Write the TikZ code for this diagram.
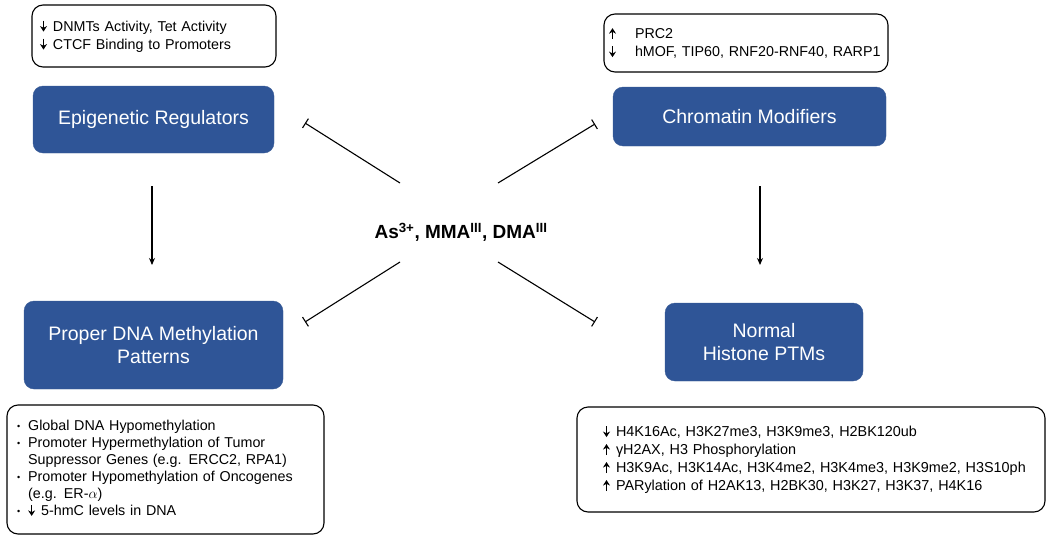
\documentclass[tikz,border=0pt]{standalone}
\usepackage{fontspec}
\setmainfont{Liberation Sans}
\usetikzlibrary{arrows.meta}
\definecolor{boxblue}{RGB}{47,85,151}
\definecolor{boxedge}{RGB}{58,92,150}
\newcommand{\dnar}{\tikz[baseline=0pt]{\path (-3.5pt,0pt) (3.5pt,0pt);\draw[line width=1.2pt,-{Stealth[length=5.5pt,width=7pt]}] (0pt,10.5pt)--(0pt,-0.5pt);}}
\newcommand{\upar}{\tikz[baseline=0pt]{\path (-3.5pt,0pt) (3.5pt,0pt);\draw[line width=1.2pt,-{Stealth[length=5.5pt,width=7pt]}] (0pt,-0.5pt)--(0pt,10.5pt);}}
\tikzset{
  bluebox/.style={draw=boxedge, fill=boxblue, rounded corners=10pt, text=white,
    align=center, inner sep=0pt, font=\fontsize{19.5}{23}\selectfont},
  notebox/.style={draw=black, line width=1.1pt, rounded corners=11pt, fill=white,
    align=left, inner ysep=0pt, anchor=center},
  inhib/.style={line width=1.1pt, -{Bar[width=11pt,line width=1.1pt]}},
  flow/.style={line width=1.3pt, -{Stealth[length=7pt,width=6pt]}},
}
\begin{document}
\begin{tikzpicture}[x=1pt,y=-1pt]
\useasboundingbox (0,0) rectangle (1050,541);

% blue boxes
\node[bluebox, minimum width=241pt, minimum height=67pt] (epi) at (153.5,119.5) {Epigenetic Regulators};
\node[bluebox, minimum width=273pt, minimum height=59pt] (chrom) at (749.5,116.5) {Chromatin Modifiers};
\node[bluebox, minimum width=259pt, minimum height=88pt] (dna) at (153.5,345) {Proper DNA Methylation\\Patterns};
\node[bluebox, minimum width=198pt, minimum height=78pt] (hist) at (764,342) {Normal\\Histone PTMs};

% note boxes
\node[notebox, minimum width=244pt, minimum height=62pt, inner xsep=8pt, text width=228pt,
  font=\fontsize{14.3}{18}\selectfont] (tlnote) at (154,36)
  {\makebox[13pt][l]{\dnar}DNMTs Activity, Tet Activity\\\makebox[13pt][l]{\dnar}CTCF Binding to Promoters};
\node[notebox, minimum width=284pt, minimum height=58pt, inner xsep=5pt, text width=274pt,
  font=\fontsize{14.3}{18}\selectfont] (trnote) at (746,43)
  {\makebox[26pt][l]{\upar}PRC2\\\makebox[26pt][l]{\dnar}hMOF, TIP60, RNF20-RNF40, RARP1};
\node[notebox, minimum width=317pt, minimum height=129pt, inner xsep=10pt, text width=297pt,
  font=\fontsize{14.3}{17}\selectfont] (blnote) at (165.5,469.5)
  {\begin{tabular}{@{}l@{\hspace{8pt}}l@{}}
   \raisebox{1pt}{\small•} & Global DNA Hypomethylation\\
   \raisebox{1pt}{\small•} & Promoter Hypermethylation of Tumor\\
     & Suppressor Genes (e.g. ERCC2, RPA1)\\
   \raisebox{1pt}{\small•} & Promoter Hypomethylation of Oncogenes\\
     & (e.g. ER-$\alpha$)\\
   \raisebox{1pt}{\small•} & \makebox[13pt][l]{\dnar}5-hmC levels in DNA
   \end{tabular}};
\node[notebox, minimum width=468pt, minimum height=105pt, inner xsep=19pt, text width=430pt,
  font=\fontsize{14.4}{18}\selectfont] (brnote) at (811,459.5)
  {\hspace*{7pt}\makebox[13pt][l]{\dnar}H4K16Ac, H3K27me3, H3K9me3, H2BK120ub\\
   \hspace*{7pt}\makebox[13pt][l]{\upar}γH2AX, H3 Phosphorylation\\
   \hspace*{7pt}\makebox[13pt][l]{\upar}H3K9Ac, H3K14Ac, H3K4me2, H3K4me3, H3K9me2, H3S10ph\\
   \hspace*{7pt}\makebox[13pt][l]{\upar}PARylation of H2AK13, H2BK30, H3K27, H3K37, H4K16};

% centre
\node[font=\bfseries\fontsize{19}{23}\selectfont] (as) at (461,232)
  {As\textsuperscript{3+}, MMA\textsuperscript{III}, DMA\textsuperscript{III}};

% connector ends
\coordinate (tlS) at (400,183); \coordinate (tlE) at (305,123);
\coordinate (trS) at (498,183); \coordinate (trE) at (595,124);
\coordinate (blS) at (400,262); \coordinate (blE) at (305,322);
\coordinate (brS) at (498,262); \coordinate (brE) at (595,322);
\coordinate (lA) at (152,186); \coordinate (lB) at (152,265);
\coordinate (rA) at (760,186); \coordinate (rB) at (760,265);

\draw[inhib] (tlS) -- (tlE);
\draw[inhib] (trS) -- (trE);
\draw[inhib] (blS) -- (blE);
\draw[inhib] (brS) -- (brE);
\draw[flow] (lA) -- (lB);
\draw[flow] (rA) -- (rB);
\end{tikzpicture}
\end{document}
